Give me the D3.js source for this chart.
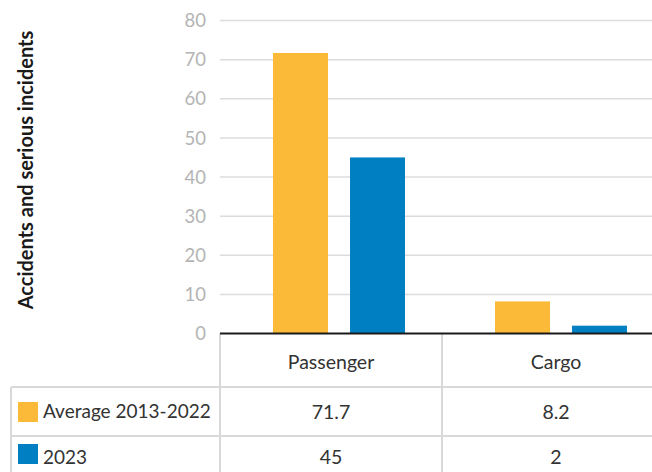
<!DOCTYPE html>
<html>
<head>
<meta charset="utf-8">
<script src="https://cdn.jsdelivr.net/npm/d3@7"></script>
<style>
  body { margin: 0; background: #fff; }
  svg { display: block; font-family: Lato, "Open Sans", sans-serif; }
</style>
</head>
<body>
<div id="chart"></div>
<script>
// data
const categories = ['Passenger', 'Cargo'];
const seriesNames = ['Average 2013-2022', '2023'];
const averageValues = [71.7, 8.2];
const values2023 = [45, 2];
const averageLabels = ['71.7', '8.2'];
const labels2023 = ['45', '2'];
const yTicks = [0, 10, 20, 30, 40, 50, 60, 70, 80];
const seriesColors = ['#FBBA38', '#0080C3'];

const width = 652;
const height = 472;

const svg = d3.select('#chart')
    .append('svg')
    .attr('width', width)
    .attr('height', height);

// layout
const plotLeft = 220;
const plotRight = 664;   // the table runs off the right edge
const rowTops = [333.5, 387, 436, 485];

const y = d3.scaleLinear().domain([0, 80]).range([333.5, 20.5]);
const x0 = d3.scaleBand().domain(categories).range([plotLeft, plotRight]);
const x1 = d3.scaleBand().domain(seriesNames).range([53, 185]).paddingInner(0.286);

const series = seriesNames.map((name, i) => ({
    name,
    color: seriesColors[i],
    values: i === 0 ? averageValues : values2023,
    labels: i === 0 ? averageLabels : labels2023
}));

// gridlines
svg.append('g')
    .selectAll('line')
    .data(yTicks.filter(d => d > 0))
    .join('line')
    .attr('x1', plotLeft)
    .attr('x2', width)
    .attr('y1', d => y(d))
    .attr('y2', d => y(d))
    .attr('stroke', '#dcdcdc')
    .attr('stroke-width', 1.5);

// y tick labels
svg.append('g')
    .selectAll('text')
    .data(yTicks)
    .join('text')
    .attr('x', 206)
    .attr('y', d => y(d))
    .attr('dy', '0.36em')
    .attr('text-anchor', 'end')
    .attr('font-size', 18.5)
    .attr('fill', '#b4b4b4')
    .text(d => d);

// y title
svg.append('text')
    .attr('transform', `translate(33,${(30 + 310) / 2}) rotate(-90)`)
    .attr('text-anchor', 'middle')
    .attr('font-size', 20)
    .attr('font-weight', 'bold')
    .attr('fill', '#1a1a1a')
    .text('Accidents and serious incidents');

// bars
const groups = svg.append('g')
    .selectAll('g')
    .data(series)
    .join('g')
    .attr('fill', d => d.color);

groups.selectAll('rect')
    .data(s => categories.map((c, j) => ({ cat: c, name: s.name, value: s.values[j] })))
    .join('rect')
    .attr('x', d => x0(d.cat) + x1(d.name))
    .attr('width', x1.bandwidth())
    .attr('y', d => y(d.value))
    .attr('height', d => y(0) - y(d.value));

// table grid
const grid = svg.append('g')
    .attr('stroke', '#d9d9d9')
    .attr('stroke-width', 2);

grid.selectAll('line.h')
    .data([rowTops[1], rowTops[2]])
    .join('line')
    .attr('class', 'h')
    .attr('x1', 11)
    .attr('x2', width)
    .attr('y1', d => d)
    .attr('y2', d => d);

grid.selectAll('line.v')
    .data([plotLeft, x0('Cargo')])
    .join('line')
    .attr('class', 'v')
    .attr('x1', d => d)
    .attr('x2', d => d)
    .attr('y1', rowTops[0])
    .attr('y2', height);

grid.append('line')
    .attr('x1', 11)
    .attr('x2', 11)
    .attr('y1', rowTops[1])
    .attr('y2', height);

// baseline
svg.append('line')
    .attr('x1', plotLeft)
    .attr('x2', width)
    .attr('y1', y(0))
    .attr('y2', y(0))
    .attr('stroke', '#1a1a1a')
    .attr('stroke-width', 2);

// category row
svg.append('g')
    .selectAll('text')
    .data(categories)
    .join('text')
    .attr('x', d => x0(d) + x0.bandwidth() / 2 + (d === 'Cargo' ? 3 : 0))
    .attr('y', 362)
    .attr('dy', '0.36em')
    .attr('text-anchor', 'middle')
    .attr('font-size', 19.5)
    .attr('fill', '#333')
    .text(d => d);

// series rows
const rowCenters = [411.5, 457];
const rows = svg.append('g')
    .selectAll('g')
    .data(series)
    .join('g')
    .attr('transform', (d, i) => `translate(0,${rowCenters[i]})`);

rows.append('rect')
    .attr('x', 18)
    .attr('y', (d, i) => i === 0 ? -9.5 : -13)
    .attr('width', 20)
    .attr('height', 20)
    .attr('fill', d => d.color);

rows.append('text')
    .attr('x', 43)
    .attr('dy', '0.36em')
    .attr('font-size', 19)
    .attr('fill', '#333')
    .text(d => d.name);

rows.selectAll('text.val')
    .data(s => categories.map((c, j) => ({ cat: c, label: s.labels[j] })))
    .join('text')
    .attr('class', 'val')
    .attr('x', d => x0(d.cat) + x0.bandwidth() / 2 + (d.cat === 'Cargo' ? 3 : 0))
    .attr('dy', '0.36em')
    .attr('text-anchor', 'middle')
    .attr('font-size', 19.5)
    .attr('fill', '#333')
    .text(d => d.label);
</script>
</body>
</html>
